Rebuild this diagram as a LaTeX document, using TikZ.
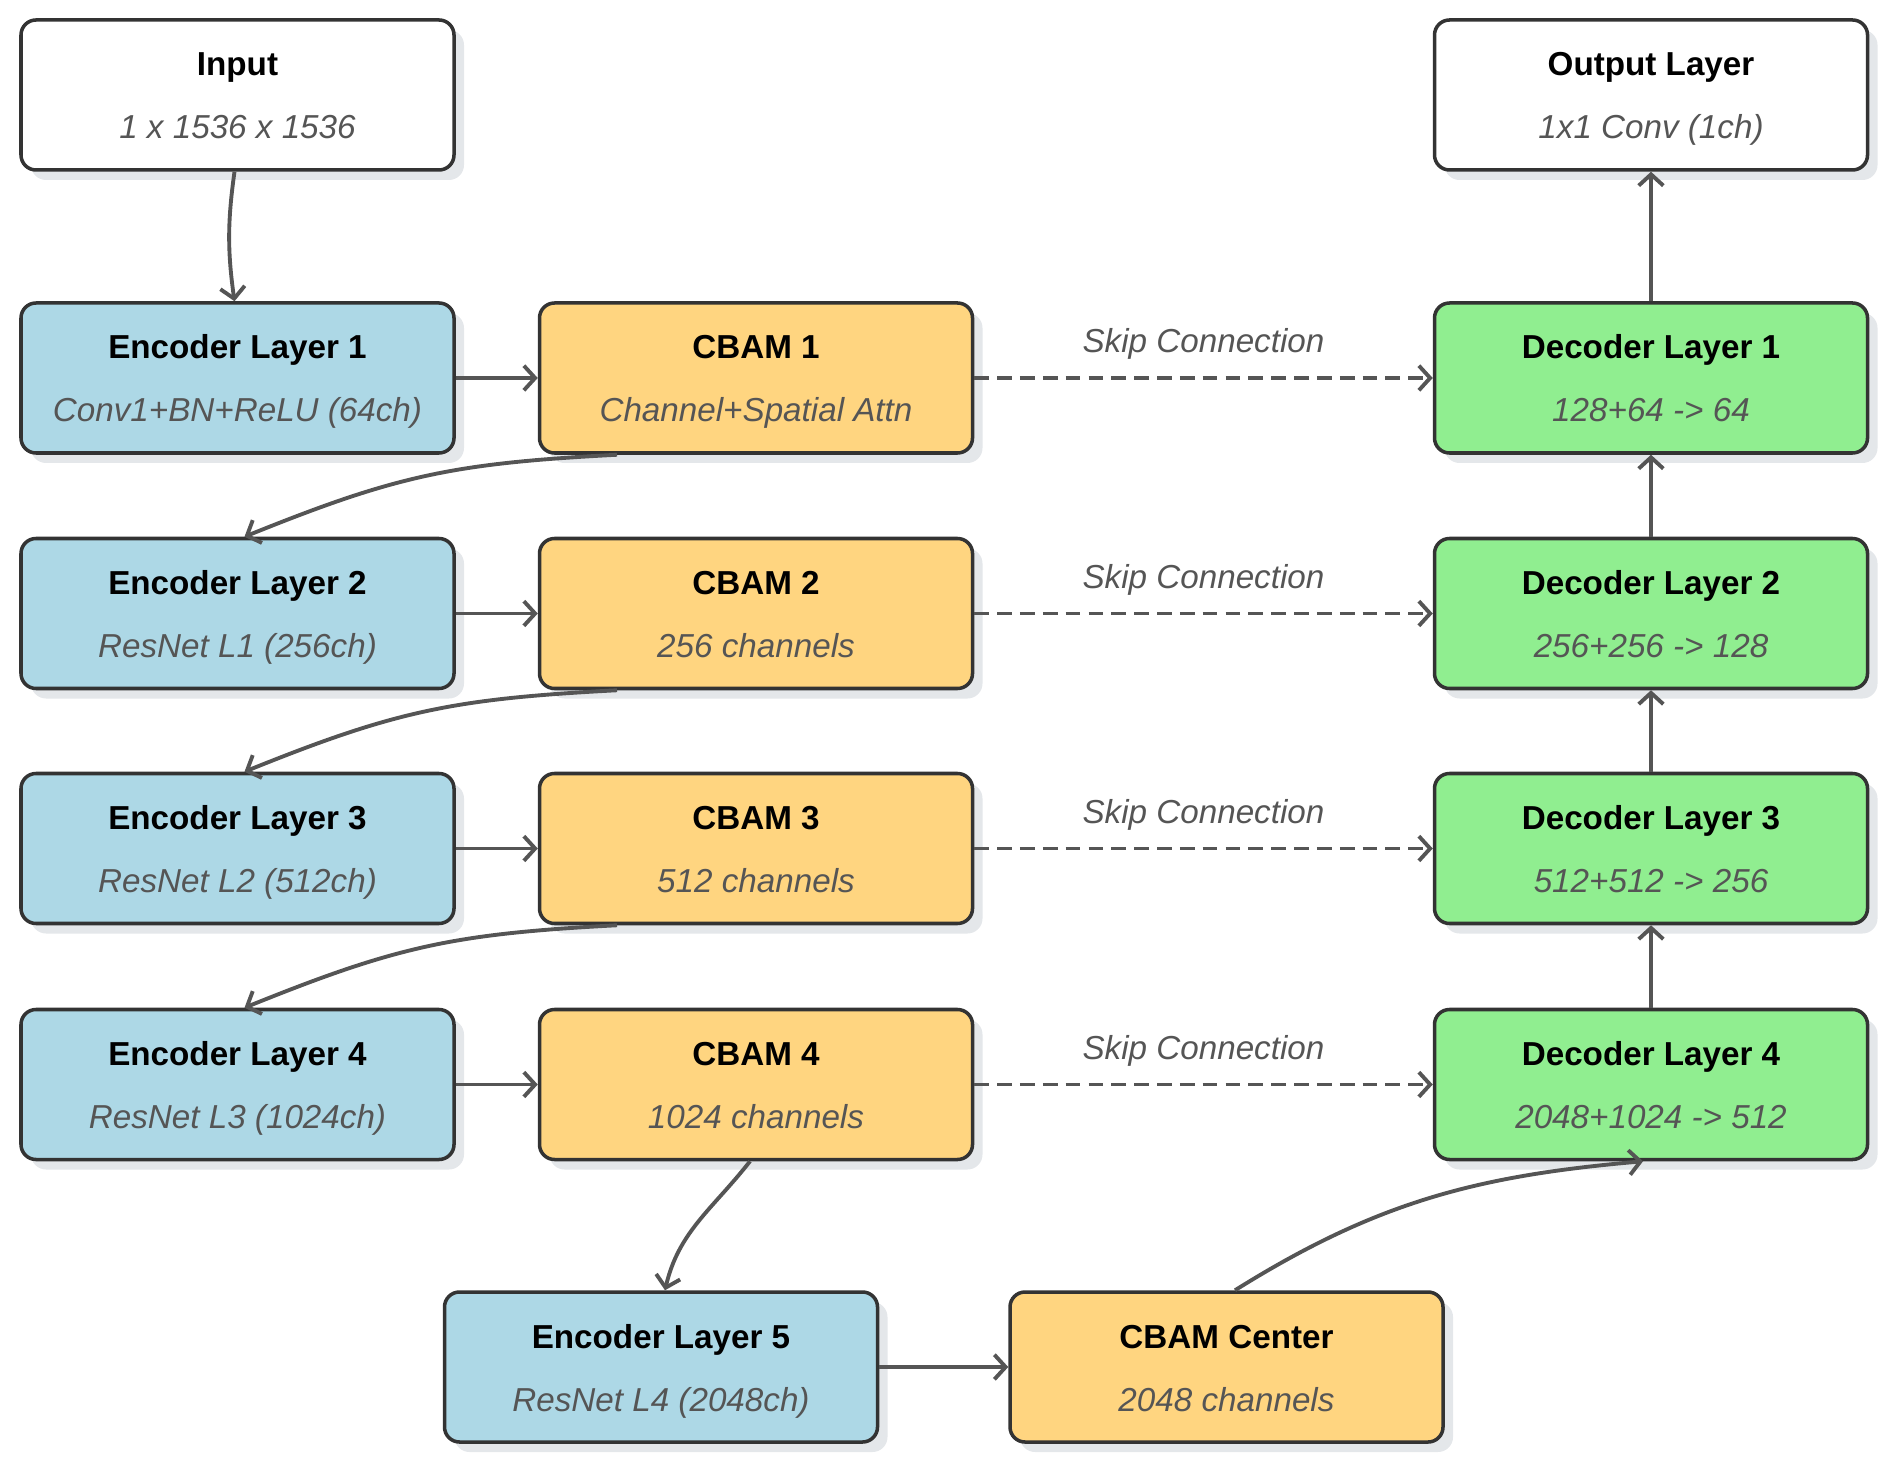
\documentclass[tikz,border=0pt]{standalone}
\usepackage{fontspec}
\setmainfont{Liberation Sans}
\usetikzlibrary{arrows.meta,shadows,calc}
\definecolor{encblue}{HTML}{ADD8E6}
\definecolor{cbamorange}{HTML}{FFD580}
\definecolor{decgreen}{HTML}{90EE90}
\definecolor{bordergrey}{HTML}{333333}
\definecolor{linegrey}{HTML}{555555}
\definecolor{subgrey}{HTML}{555555}
\definecolor{shadowgrey}{HTML}{E4E7EA}
\tikzset{
  box/.style={draw=bordergrey, line width=1pt, rounded corners=0.15cm,
    minimum width=4.33cm, minimum height=1.50cm, inner sep=0pt,
    general shadow={fill=shadowgrey, draw=none, shadow xshift=0.1cm, shadow yshift=-0.1cm}},
  plainbox/.style={box, fill=white},
  encbox/.style={box, fill=encblue},
  cbambox/.style={box, fill=cbamorange},
  decbox/.style={box, fill=decgreen},
  titletext/.style={font=\fontsize{9.45pt}{11pt}\selectfont\bfseries, text=black, inner sep=0pt},
  subtext/.style={font=\fontsize{9.45pt}{11pt}\selectfont\itshape, text=subgrey, inner sep=0pt},
  skiptext/.style={font=\fontsize{9.45pt}{11pt}\selectfont\itshape, text=subgrey, inner sep=0pt},
  conn/.style={draw=linegrey, line width=1.1pt, -{Straight Barb[length=3.2pt,width=7pt]}},
  skipconn/.style={conn, dash pattern=on 4.2pt off 2.3pt},
}
\newcommand\mkblock[6]{%
  \node[#4] (#1) at (#2,#3) {};
  \node[titletext, anchor=base] (#1-t) at ([yshift=0.19cm]#1.center) {#5};
  \node[subtext, anchor=base] (#1-s) at ([yshift=-0.44cm]#1.center) {#6};
}
\begin{document}
\begin{tikzpicture}
\useasboundingbox (0,0) rectangle (18.92,14.66);
% blocks
\mkblock{inp}{2.375}{13.71}{plainbox}{Input}{1 x 1536 x 1536}
\mkblock{out}{16.51}{13.71}{plainbox}{Output Layer}{1x1 Conv (1ch)}
\mkblock{enc1}{2.375}{10.88}{encbox}{Encoder Layer 1}{Conv1+BN+ReLU (64ch)}
\mkblock{enc2}{2.375}{8.525}{encbox}{Encoder Layer 2}{ResNet L1 (256ch)}
\mkblock{enc3}{2.375}{6.175}{encbox}{Encoder Layer 3}{ResNet L2 (512ch)}
\mkblock{enc4}{2.375}{3.815}{encbox}{Encoder Layer 4}{ResNet L3 (1024ch)}
\mkblock{cb1}{7.56}{10.88}{cbambox}{CBAM 1}{Channel+Spatial Attn}
\mkblock{cb2}{7.56}{8.525}{cbambox}{CBAM 2}{256 channels}
\mkblock{cb3}{7.56}{6.175}{cbambox}{CBAM 3}{512 channels}
\mkblock{cb4}{7.56}{3.815}{cbambox}{CBAM 4}{1024 channels}
\mkblock{dec1}{16.51}{10.88}{decbox}{Decoder Layer 1}{128+64 -> 64}
\mkblock{dec2}{16.51}{8.525}{decbox}{Decoder Layer 2}{256+256 -> 128}
\mkblock{dec3}{16.51}{6.175}{decbox}{Decoder Layer 3}{512+512 -> 256}
\mkblock{dec4}{16.51}{3.815}{decbox}{Decoder Layer 4}{2048+1024 -> 512}
\mkblock{enc5}{6.61}{0.99}{encbox}{Encoder Layer 5}{ResNet L4 (2048ch)}
\mkblock{cbc}{12.265}{0.99}{cbambox}{CBAM Center}{2048 channels}
% connectors
\draw[conn] ([xshift=-0.03cm]inp.south) to[bend right=8] ([xshift=-0.03cm]enc1.north);
\foreach \i in {1,2,3,4}{
  \draw[conn] (enc\i.east) -- (cb\i.west);
  \draw[skipconn] (cb\i.east) -- (dec\i.west);
  \node[skiptext, anchor=base] (sk\i) at ($(cb\i.east)!0.5!(dec\i.west)+(0,0.25)$) {Skip Connection};
}
\foreach \i/\j in {1/2,2/3,3/4}{
  \draw[conn] ([xshift=-1.39cm]cb\i.south) to[out=183, in=22, looseness=1.1] ([xshift=0.07cm]enc\j.north);
}
\draw[conn] ([xshift=-0.06cm]cb4.south) to[out=232, in=77] ([xshift=0.04cm]enc5.north);
\draw[conn] (enc5.east) -- (cbc.west);
\draw[conn] ([xshift=0.085cm]cbc.north) to[out=32, in=185] ([xshift=-0.08cm]dec4.south);
\draw[conn] (dec4.north) -- (dec3.south);
\draw[conn] (dec3.north) -- (dec2.south);
\draw[conn] (dec2.north) -- (dec1.south);
\draw[conn] (dec1.north) -- (out.south);
\end{tikzpicture}
\end{document}
